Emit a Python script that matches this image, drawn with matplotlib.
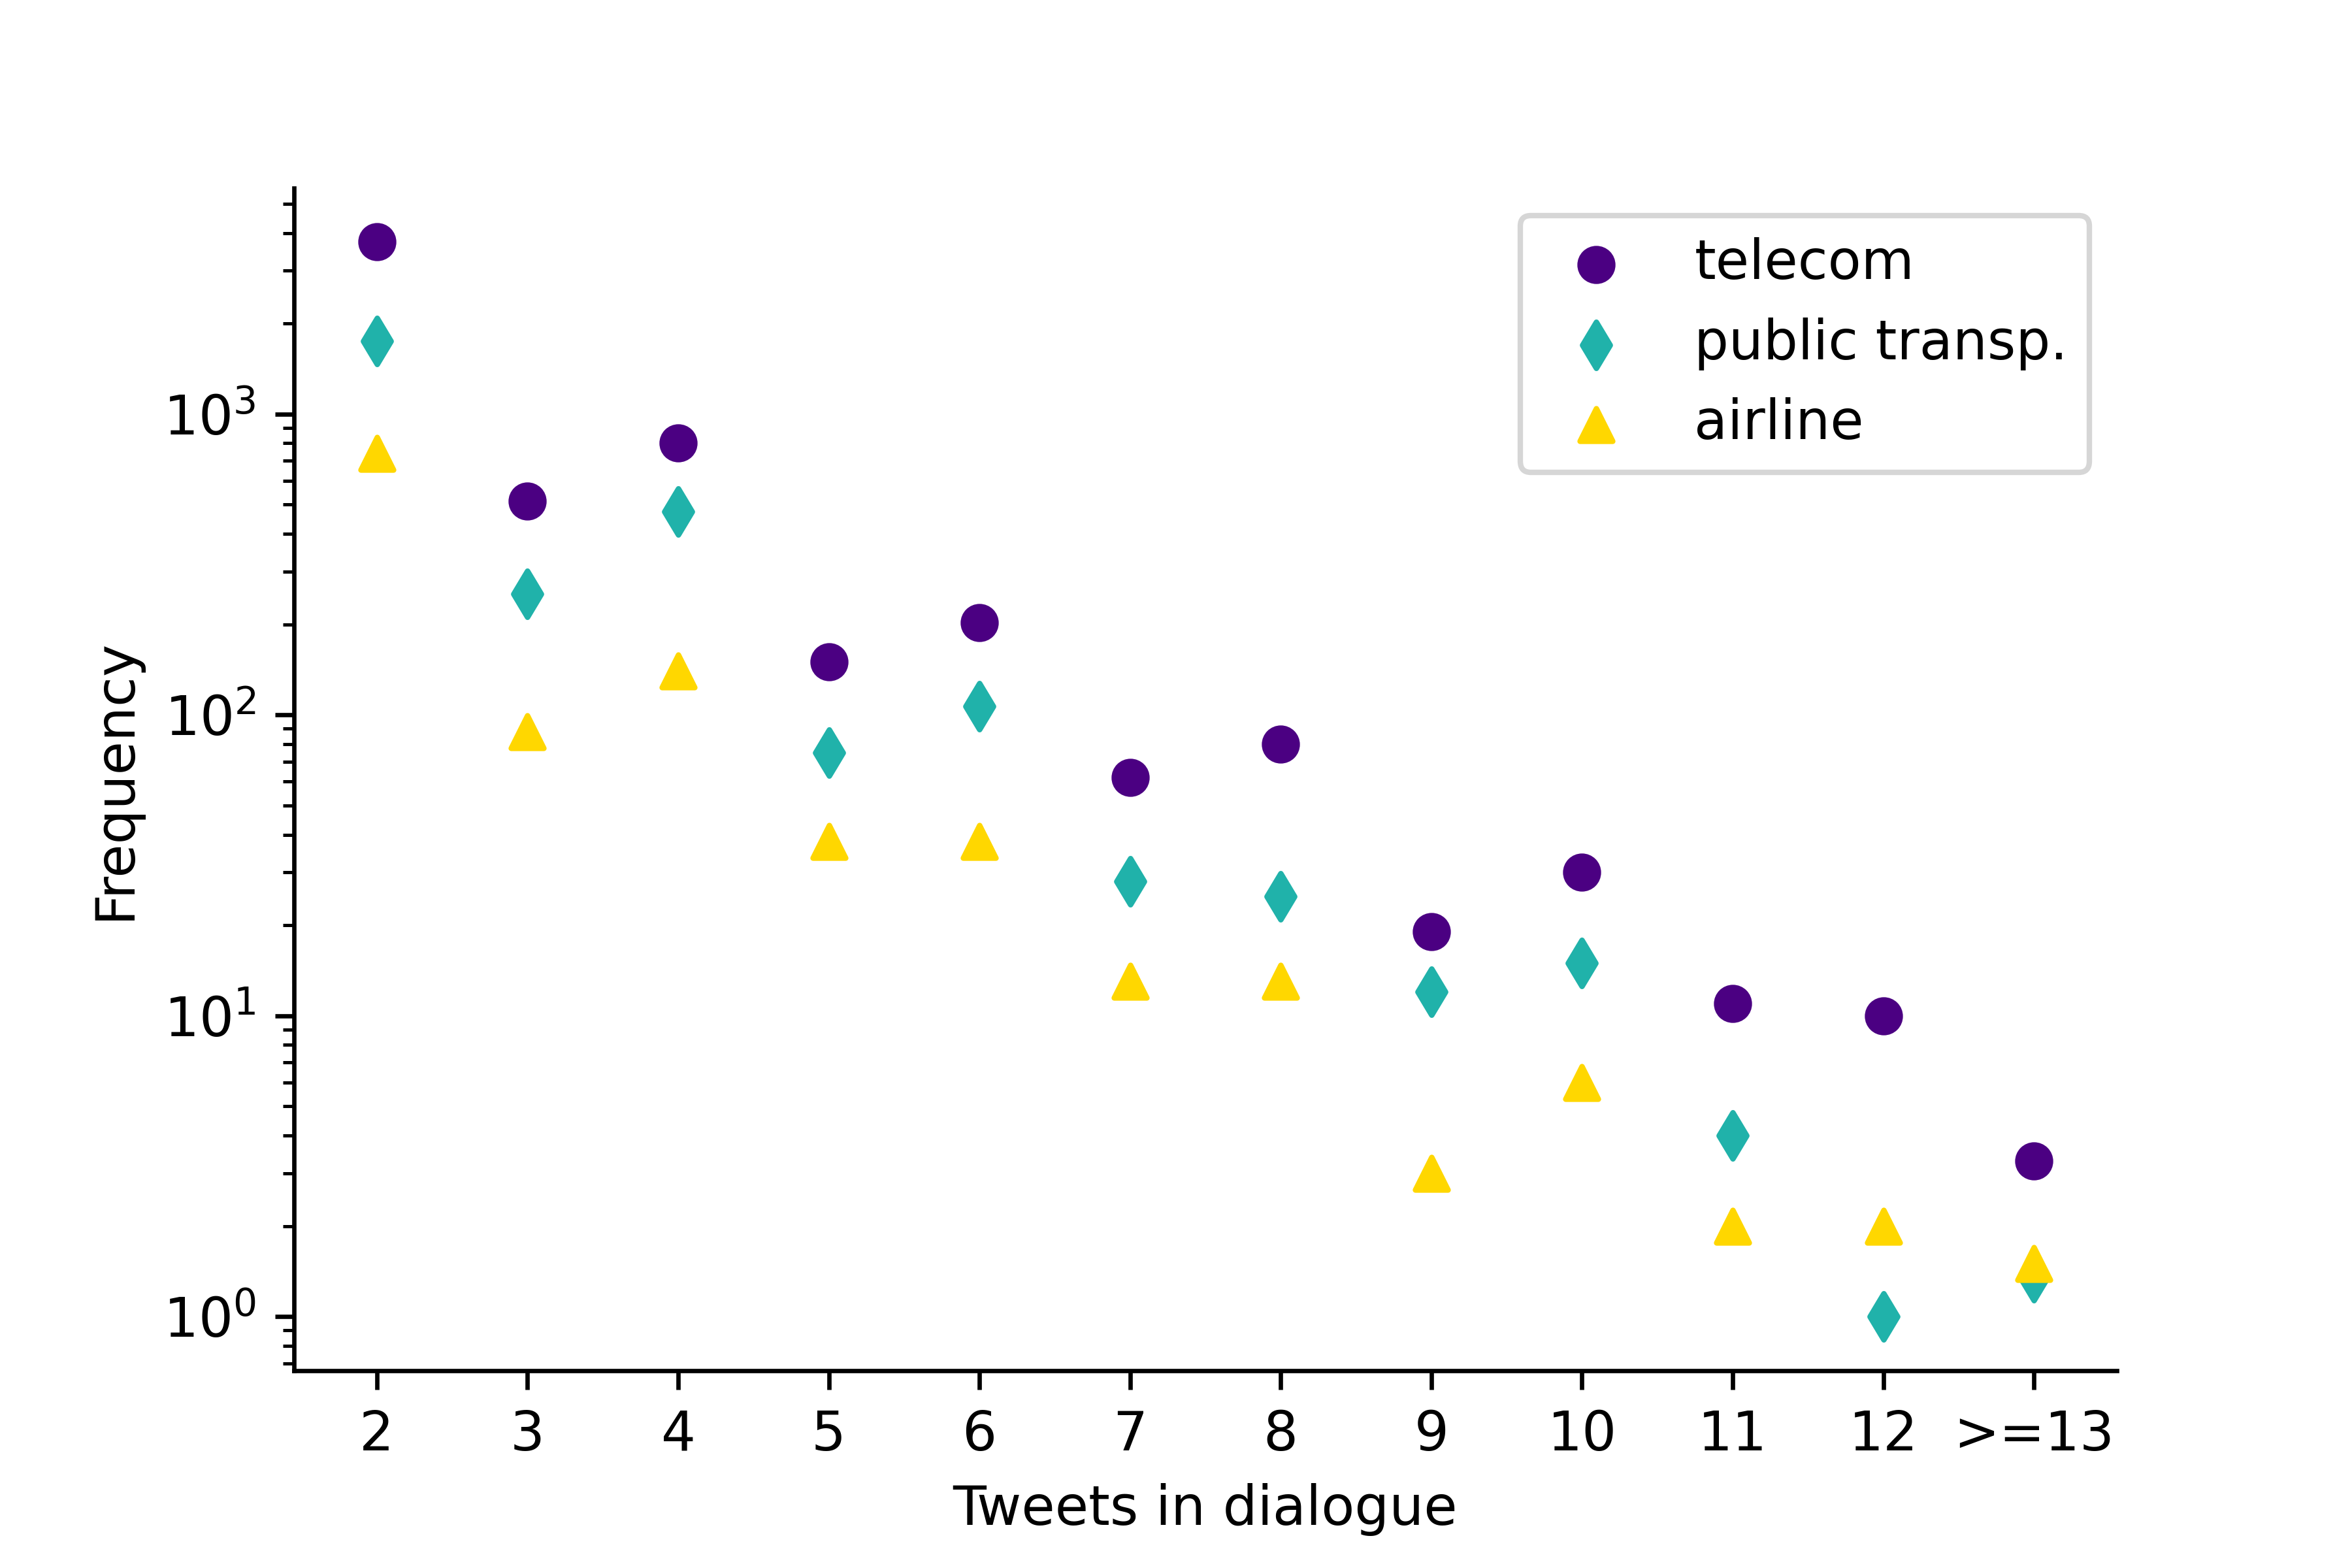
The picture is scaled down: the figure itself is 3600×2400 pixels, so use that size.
import numpy as np
from matplotlib import pyplot as plt

# 对话中的推文数量
labels = ['2', '3', '4', '5', '6', '7', '8', '9', '10', '11', '12', '>=13']

telecom = [3735, 514, 803, 150, 203, 62, 80, 19, 30, 11, 10, 3.3]
public_transp = [1753, 252, 474, 75, 107, 28, 25, 12, 15, 4, 1, 1.35]
airline = [741, 88, 140, 38, 38, 13, 13, 3, 6, 2, 2, 1.5]

x = np.arange(len(labels))

fig = plt.figure(figsize=(6, 4), dpi=600)
ax = fig.add_subplot(111)
fig.subplots_adjust(bottom=0.126)

ax.scatter(x, telecom, marker='o', color='indigo', label='telecom')
ax.scatter(x, public_transp, marker='d', color='lightseagreen', label='public transp.')
ax.scatter(x, airline, marker='^', color='gold', label='airline')

ax.set_yscale('log')
ax.set_xticks(x)
ax.set_xticklabels(labels)
ax.set_xlabel('Tweets in dialogue')
ax.set_ylabel('Frequency')

ax.spines['top'].set_visible(False)
ax.spines['right'].set_visible(False)

ax.legend(loc='upper right')

plt.savefig('out.png', dpi=600)
